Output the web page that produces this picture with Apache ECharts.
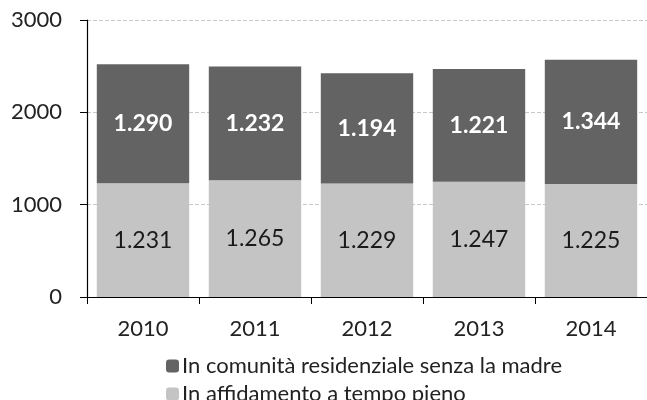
<!DOCTYPE html>
<html>
<head>
<meta charset="utf-8">
<script src="https://cdn.jsdelivr.net/npm/echarts@6/dist/echarts.min.js"></script>
<style>
  html, body { margin: 0; padding: 0; background: #fff; }
  #chart { width: 647px; height: 400px; }
</style>
</head>
<body>
<div id="chart"></div>
<script>
  var years = ['2010', '2011', '2012', '2013', '2014'];
  var affidamento = [1231, 1265, 1229, 1247, 1225];
  var comunita = [1290, 1232, 1194, 1221, 1344];
  var yTicks = [0, 1000, 2000, 3000];

  var nomeComunita = 'In comunità residenziale senza la madre';
  var nomeAffidamento = 'In affidamento a tempo pieno';

  // separatore delle migliaia col punto, come nel grafico originale
  function fmt(v) {
    return String(v).replace(/\B(?=(\d{3})+(?!\d))/g, '.');
  }

  var myChart = echarts.init(document.getElementById('chart'));
  var option = {
    animation: false,
    textStyle: { fontFamily: 'Lato' },
    grid: { left: 87, top: 20, width: 564, height: 277 },
    legend: {
      orient: 'vertical',
      left: 161,
      top: 350,
      height: 80,
      itemWidth: 13,
      itemHeight: 13,
      itemGap: 6,
      data: [nomeComunita, nomeAffidamento],
      textStyle: { fontFamily: 'Lato', fontSize: 22, color: '#222', padding: [0, 0, 0, -2] }
    },
    xAxis: {
      type: 'category',
      data: years,
      axisLine: { lineStyle: { color: '#000', width: 1.2 } },
      axisTick: { show: true, length: 7, lineStyle: { color: '#000' } },
      axisLabel: { fontSize: 22, color: '#222', margin: 21 }
    },
    yAxis: {
      type: 'value',
      min: yTicks[0],
      max: yTicks[yTicks.length - 1],
      interval: 1000,
      axisLine: { show: true, lineStyle: { color: '#000', width: 1.2 } },
      axisTick: { show: true, length: 7, lineStyle: { color: '#000' } },
      axisLabel: { fontSize: 22, color: '#222', margin: 25, formatter: function (v) { return String(v); } },
      splitLine: { lineStyle: { color: '#c8c8c8', type: 'dashed' } }
    },
    series: [
      {
        name: nomeAffidamento,
        type: 'bar',
        stack: 'tot',
        barCategoryGap: '17.5%',
        itemStyle: { color: '#c4c4c4' },
        label: {
          show: true,
          position: 'inside',
          fontSize: 23,
          color: '#1a1a1a',
          formatter: function (p) { return fmt(p.value); }
        },
        data: affidamento
      },
      {
        name: nomeComunita,
        type: 'bar',
        stack: 'tot',
        itemStyle: { color: '#636363' },
        label: {
          show: true,
          position: 'inside',
          fontSize: 23,
          fontWeight: 'bold',
          color: '#fff',
          formatter: function (p) { return fmt(p.value); }
        },
        data: comunita
      }
    ]
  };
  option && myChart.setOption(option);
</script>
</body>
</html>
